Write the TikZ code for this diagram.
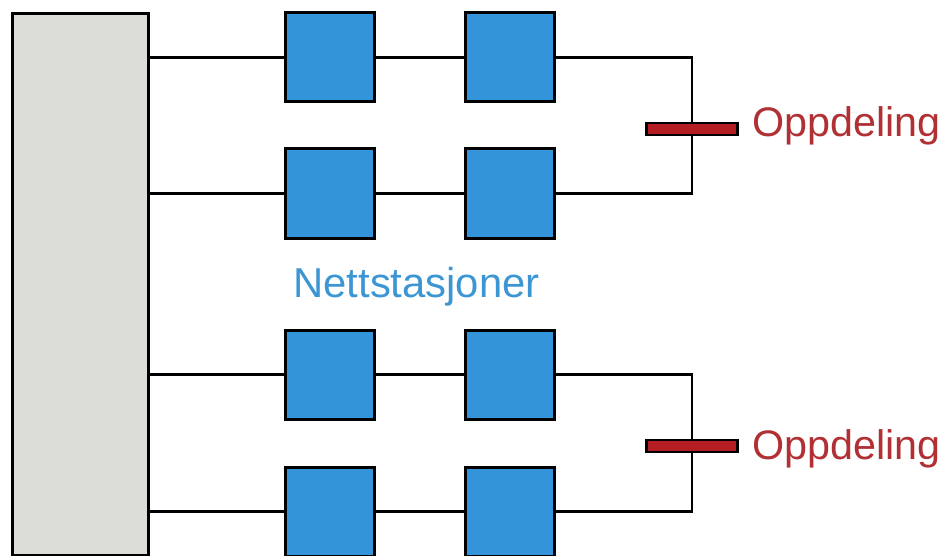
\documentclass[tikz,border=0pt]{standalone}
\usepackage{fontspec}
\setmainfont{Liberation Sans}
\begin{document}
\begin{tikzpicture}[x=1pt,y=-1pt,
  spinebox/.style={draw=black,line width=3pt,fill=spinegray,minimum width=136pt,minimum height=542pt,inner sep=0pt,anchor=north west},
  station/.style={draw=black,line width=3pt,fill=stationblue,minimum size=89pt,inner sep=0pt},
  cutbar/.style={draw=black,line width=2.6pt,fill=cutred,minimum width=91pt,minimum height=12pt,inner sep=0pt},
  wire/.style={draw=black,line width=2.6pt},
  cutlabel/.style={text=labelred,font=\fontsize{41.3}{41.3}\selectfont,anchor=base west,inner sep=0pt},
  grouplabel/.style={text=labelblue,font=\fontsize{41.8}{41.8}\selectfont,anchor=base,inner sep=0pt}]
\definecolor{spinegray}{HTML}{DCDCD8}
\definecolor{stationblue}{HTML}{3494DA}
\definecolor{cutred}{HTML}{B41E22}
\definecolor{labelred}{HTML}{B03034}
\definecolor{labelblue}{HTML}{3D96D4}
\useasboundingbox (0,0) rectangle (947,556);
\clip (0,0) rectangle (947,556);

% feeding busbar
\node[spinebox] (spine) at (11,12) {};

% substations: row r, column c
\node[station] (s11) at (330,57.5) {};
\node[station] (s12) at (510,57.5) {};
\node[station] (s21) at (330,193.5) {};
\node[station] (s22) at (510,193.5) {};
\node[station] (s31) at (330,374.5) {};
\node[station] (s32) at (510,374.5) {};
\node[station] (s41) at (330,511.5) {};
\node[station] (s42) at (510,511.5) {};

% radial feeders
\foreach \r in {1,2,3,4}{
  \draw[wire] (spine.east |- s\r1.west) -- (s\r1.west);
  \draw[wire] (s\r1.east) -- (s\r2.east -| s\r2.west);
}

% open points joining pairs of feeders
\coordinate (jtop) at (692,129);
\coordinate (jbot) at (692,446);
\draw[wire] (s12.east) -| (jtop) |- (s22.east);
\draw[wire] (s32.east) -| (jbot) |- (s42.east);
\node[cutbar] (cut1) at (jtop) {};
\node[cutbar] (cut2) at (jbot) {};

% labels
\node[cutlabel] (lab1) at (752,137) {Oppdeling};
\node[cutlabel] (lab2) at (752,459) {Oppdeling};
\node[grouplabel] (lab3) at (416.5,297) {Nettstasjoner};
\end{tikzpicture}
\end{document}
